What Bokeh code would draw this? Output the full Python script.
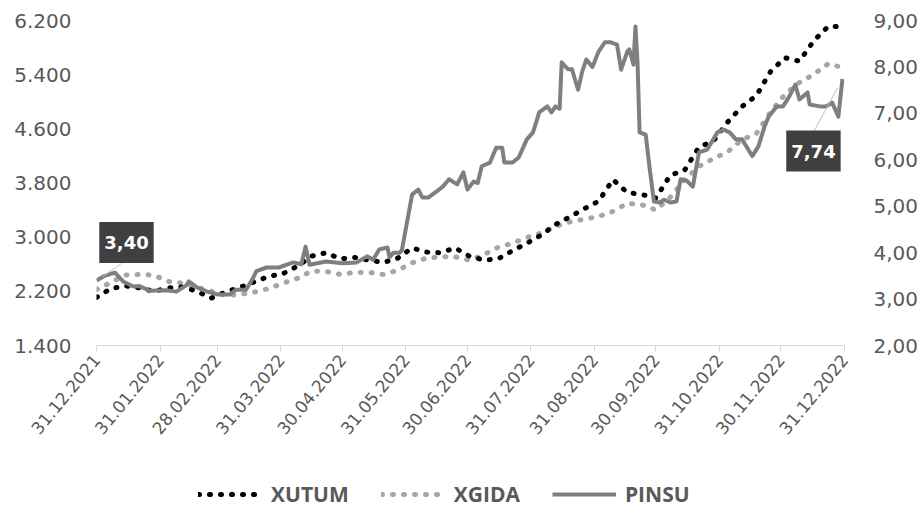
from datetime import datetime, timedelta

from bokeh.plotting import figure
from bokeh.layouts import column
from bokeh.models import (Range1d, LinearAxis, FixedTicker, DatetimeTickFormatter,
                          Legend, LegendItem, Label)
from bokeh.embed import file_html
from bokeh.resources import INLINE

# ---------------- data ----------------
START = datetime(2021, 12, 31)
END = datetime(2022, 12, 31)

WEEK_DAYS = list(range(0, 365, 7))  # weekly sampling, day offsets from START

XUTUM = [2110, 2240, 2280, 2250, 2200, 2250, 2265, 2200, 2100, 2190,
         2260, 2340, 2420, 2460, 2570, 2720, 2770, 2680, 2700, 2660,
         2626, 2690, 2840, 2780, 2770, 2840, 2720, 2660, 2680, 2800,
         2910, 3030, 3187, 3300, 3420, 3530, 3850, 3660, 3630, 3580,
         3915, 3990, 4330, 4420, 4700, 4930, 5090, 5450, 5650, 5600,
         5900, 6112, 6112]

XGIDA = [2227, 2330, 2440, 2449, 2440, 2345, 2320, 2260, 2200, 2140,
         2153, 2190, 2240, 2320, 2390, 2500, 2495, 2450, 2478, 2480,
         2450, 2510, 2620, 2690, 2710, 2710, 2660, 2740, 2850, 2910,
         2995, 3060, 3160, 3225, 3265, 3305, 3380, 3500, 3480, 3400,
         3590, 3850, 4044, 4160, 4260, 4440, 4530, 4850, 5110, 5285,
         5403, 5560, 5506]

PINSU_DAYS = [0, 4, 9, 13, 18, 21, 26, 34, 39, 44,
              45, 49, 54, 59, 65, 68, 73, 76, 78, 83,
              89, 96, 100, 102, 104, 112, 120, 127, 132, 135,
              138, 142, 143, 145, 148, 149, 154, 157, 159, 162,
              166, 169, 172, 176, 179, 181, 184, 186, 188, 192,
              195, 198, 199, 203, 206, 210, 213, 215, 216, 220,
              222, 224, 226, 227, 230, 232, 235, 237, 239, 242,
              245, 248, 251, 254, 256, 259, 260, 262, 263, 264,
              265, 268, 270, 272, 275, 277, 280, 283, 285, 288,
              291, 294, 298, 303, 306, 309, 312, 315, 320, 323,
              326, 328, 332, 335, 338, 341, 343, 347, 348, 353,
              356, 359, 362, 364]

PINSU = [3.40, 3.50, 3.57, 3.38, 3.27, 3.28, 3.18, 3.19, 3.16, 3.30,
         3.38, 3.25, 3.16, 3.10, 3.10, 3.20, 3.20, 3.42, 3.60, 3.68,
         3.68, 3.79, 3.75, 4.13, 3.74, 3.81, 3.77, 3.79, 3.92, 3.85,
         4.07, 4.11, 3.90, 4.00, 4.00, 4.05, 5.25, 5.36, 5.19, 5.19,
         5.32, 5.42, 5.58, 5.47, 5.73, 5.36, 5.53, 5.50, 5.86, 5.94,
         6.26, 6.26, 5.94, 5.94, 6.05, 6.44, 6.59, 6.87, 7.02, 7.15,
         7.02, 7.15, 7.10, 8.10, 7.95, 7.95, 7.51, 7.90, 8.16, 8.00,
         8.33, 8.53, 8.53, 8.48, 7.94, 8.33, 8.38, 8.05, 8.87, 8.10,
         6.59, 6.54, 5.79, 5.10, 5.08, 5.14, 5.08, 5.10, 5.58, 5.55,
         5.42, 6.16, 6.22, 6.59, 6.65, 6.59, 6.44, 6.44, 6.08, 6.29,
         6.72, 6.93, 7.15, 7.15, 7.36, 7.62, 7.30, 7.45, 7.19, 7.15,
         7.15, 7.23, 6.93, 7.74]

TICK_DATES = ["2021-12-31", "2022-01-31", "2022-02-28", "2022-03-31", "2022-04-30",
              "2022-05-31", "2022-06-30", "2022-07-31", "2022-08-31", "2022-09-30",
              "2022-10-31", "2022-11-30", "2022-12-31"]
LEFT_TICKS = [1400, 2200, 3000, 3800, 4600, 5400, 6200]
LEFT_LABELS = ["1.400", "2.200", "3.000", "3.800", "4.600", "5.400", "6.200"]
RIGHT_TICKS = [2, 3, 4, 5, 6, 7, 8, 9]
RIGHT_LABELS = ["2,00", "3,00", "4,00", "5,00", "6,00", "7,00", "8,00", "9,00"]
SERIES_NAMES = ["XUTUM", "XGIDA", "PINSU"]

assert len(PINSU_DAYS) == len(PINSU)

# ---------------- styles ----------------
FRAME_W, FRAME_H = 748, 325
TXT = "#595959"
STYLE = {
    "XUTUM": dict(line_color="#000000", line_width=5, line_dash="1 10",
                  line_cap="round", line_join="round"),
    "XGIDA": dict(line_color="#a6a6a6", line_width=5, line_dash="1 10",
                  line_cap="round", line_join="round"),
    "PINSU": dict(line_color="#7f7f7f", line_width=4, line_join="round"),
}

week_dates = [START + timedelta(days=d) for d in WEEK_DAYS]
pinsu_dates = [START + timedelta(days=d) for d in PINSU_DAYS]

# ---------------- main chart ----------------
p = figure(x_axis_type="datetime", frame_width=FRAME_W, frame_height=FRAME_H,
           x_range=Range1d(START, END), y_range=Range1d(LEFT_TICKS[0], LEFT_TICKS[-1]),
           output_backend="svg", toolbar_location=None,
           min_border_left=96, min_border_right=60, min_border_top=20, min_border_bottom=0)
p.extra_y_ranges = {"right": Range1d(RIGHT_TICKS[0], RIGHT_TICKS[-1])}
p.outline_line_color = None
p.xgrid.visible = False
p.ygrid.visible = False

# bottom axis
xa = p.xaxis[0]
epoch = datetime(1970, 1, 1)
xa.ticker = FixedTicker(ticks=[(datetime.strptime(d, "%Y-%m-%d") - epoch).total_seconds() * 1000
                               for d in TICK_DATES])
fmt = "%d.%m.%Y"
xa.formatter = DatetimeTickFormatter(days=fmt, months=fmt, years=fmt, hours=fmt,
                                     hourmin=fmt, minutes=fmt, context=None)
xa.major_label_orientation = 0.88
xa.axis_line_color = "#d9d9d9"
xa.major_tick_line_color = "#d9d9d9"
xa.major_tick_out = 6
xa.major_tick_in = 0
xa.minor_tick_line_color = None
xa.major_label_text_font = "DejaVu Sans"
xa.major_label_text_font_size = "17px"
xa.major_label_text_color = TXT
xa.major_label_standoff = 5

# left axis
ya = p.yaxis[0]
ya.ticker = FixedTicker(ticks=LEFT_TICKS)
ya.major_label_overrides = dict(zip(LEFT_TICKS, LEFT_LABELS))
ya.axis_line_color = None
ya.major_tick_line_color = None
ya.minor_tick_line_color = None
ya.major_tick_out = 0
ya.major_tick_in = 0
ya.major_label_standoff = 25
ya.major_label_text_font = "DejaVu Sans"
ya.major_label_text_font_size = "20px"
ya.major_label_text_color = TXT

# right axis
ra = LinearAxis(y_range_name="right", ticker=FixedTicker(ticks=RIGHT_TICKS))
ra.major_label_overrides = dict(zip(RIGHT_TICKS, RIGHT_LABELS))
ra.axis_line_color = None
ra.major_tick_line_color = None
ra.minor_tick_line_color = None
ra.major_tick_out = 0
ra.major_tick_in = 0
ra.major_label_standoff = 29
ra.major_label_text_font = "DejaVu Sans"
ra.major_label_text_font_size = "20px"
ra.major_label_text_color = TXT
p.add_layout(ra, "right")

# series
p.line(week_dates, XGIDA, **STYLE["XGIDA"])
p.line(week_dates, XUTUM, **STYLE["XUTUM"])
p.line(pinsu_dates, PINSU, y_range_name="right", **STYLE["PINSU"])

# data labels with leader lines
ms_per_px = (END - START).total_seconds() * 1000 / FRAME_W
u_per_px = (RIGHT_TICKS[-1] - RIGHT_TICKS[0]) / FRAME_H


def px(dt, v, dx, dy):
    return dt + timedelta(milliseconds=dx * ms_per_px), v + dy * u_per_px


callouts = [(0, (6, 4), (25, 17), (30, 38)),
            (-1, (-5, -9), (-30, -55), (-29, -72))]
for idx, a, b, off in callouts:
    dt, v = pinsu_dates[idx], PINSU[idx]
    x0, y0 = px(dt, v, *a)
    x1, y1 = px(dt, v, *b)
    p.segment(x0=[x0], y0=[y0], x1=[x1], y1=[y1], y_range_name="right",
              line_color="#bfbfbf", line_width=1)
    p.add_layout(Label(x=dt, y=v, y_range_name="right", x_offset=off[0], y_offset=off[1],
                       text=f"{v:.2f}".replace(".", ","), text_align="center",
                       text_baseline="middle", text_color="white",
                       text_font="DejaVu Sans", text_font_style="bold",
                       text_font_size="18px", background_fill_color="#404040",
                       padding=(5, 14)))

# ---------------- legend strip ----------------
LEG_H = 68
lg = figure(width=p.min_border_left + FRAME_W + 70, height=LEG_H,
            x_range=Range1d(0, 1), y_range=Range1d(0, 1),
            x_axis_location=None, y_axis_location=None,
            output_backend="svg", toolbar_location=None,
            min_border=0, outline_line_color=None)
lg.xgrid.visible = False
lg.ygrid.visible = False
items = []
for name in SERIES_NAMES:
    r = lg.line(x=[float("nan")], y=[float("nan")], **STYLE[name])
    items.append(LegendItem(label=name, renderers=[r]))
legend = Legend(items=items, location=(102, 2), orientation="horizontal",
                glyph_width=64, glyph_height=20, label_standoff=9, spacing=32,
                padding=0, margin=0, border_line_color=None, background_fill_alpha=0,
                label_text_font="Open Sans", label_text_font_style="bold",
                label_text_font_size="21px", label_text_color=TXT)
lg.add_layout(legend, "center")

open("out.html", "w").write(file_html(column(p, lg, spacing=0), INLINE))
